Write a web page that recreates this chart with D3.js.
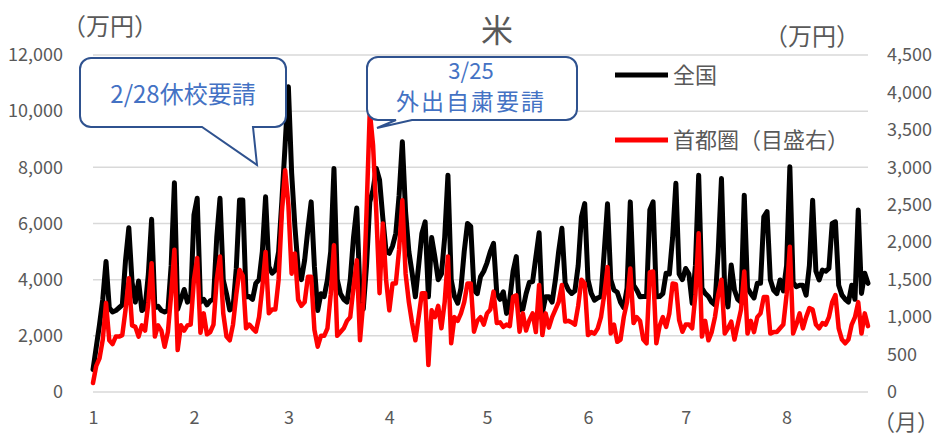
<!DOCTYPE html>
<html>
<head>
<meta charset="utf-8">
<script src="https://cdn.jsdelivr.net/npm/d3@7"></script>
<style>
  html, body { margin: 0; padding: 0; background: #fff; }
  svg { display: block; font-family: "Noto Sans CJK JP", "Noto Sans", sans-serif; }
</style>
</head>
<body>
<svg id="chart" width="941" height="436"></svg>
<script>
// ---- data (daily, 2020-01-01 .. 2020-08-26) ----
const startDateStr = "2020-01-01";
const title = "米";
const seriesNames = ["全国", "首都圏（目盛右）"];
const leftTicks = [0, 2000, 4000, 6000, 8000, 10000, 12000];
const rightTicks = [0, 500, 1000, 1500, 2000, 2500, 3000, 3500, 4000, 4500];
const callouts = ["2/28休校要請", "3/25", "外出自粛要請"];

// 全国 (left axis, 万円)
const zenkoku = [
  800, 1600, 2400, 3300, 4650, 3000, 2850, 2900, 3000, 3100,
  4700, 5850, 3900, 3200, 3950, 2900, 3000, 4200, 6150, 3000,
  3050, 2900, 2850, 2900, 4500, 7450, 2950, 3300, 3650, 3200,
  3300, 6300, 6900, 3200, 3300, 3100, 3250, 3300, 5500, 6900,
  3990, 3500, 2920, 3000, 4400, 6840, 6840, 3390, 3400, 3300,
  3870, 4000, 5000, 6950, 4460, 4230, 4340, 5000, 6800, 8800,
  10870, 7800, 5900, 4400, 4000, 4700, 5800, 6770, 4460, 2900,
  3500, 3400, 4000, 5000, 7960, 4000, 3500, 3300, 3200, 4000,
  5500, 6550, 3500, 2950, 4500, 6760, 7200, 7960, 7550, 6200,
  5000, 4940, 5200, 5650, 7000, 8910, 6400, 5000, 4230, 3390,
  4500, 5650, 6060, 3390, 5500, 4800, 4000, 4200, 5500, 7720,
  4000, 3400, 3160, 3700, 5000, 6000, 5900, 3630, 3500, 4100,
  4300, 4600, 5000, 5290, 3510, 3300, 3570, 2800, 3300, 4300,
  4820, 2920, 2950, 3500, 3900, 3930, 4800, 5670, 2810, 3390,
  3390, 3200, 3990, 5000, 5830, 3880, 3630, 3510, 3600, 4500,
  6240, 6710, 4000, 3510, 3270, 3350, 3400, 5000, 6700, 4000,
  3630, 3550, 3200, 3000, 3700, 6770, 3800, 3630, 3390, 3400,
  3400, 6480, 6770, 3390, 3400, 3500, 4230, 4200, 5500, 7430,
  4200, 4000, 4400, 4200, 3160, 4500, 7720, 3700, 3510, 3400,
  3200, 3100, 5000, 7600, 3600, 3030, 4520, 3630, 3300, 3200,
  7010, 3700, 3510, 3350, 3870, 3870, 6240, 6420, 4000, 3630,
  3500, 3990, 3600, 4500, 8020, 3900, 3750, 3800, 3800, 3450,
  4500, 6830, 4300, 3990, 4340, 4300, 4400, 6000, 6060, 3800,
  3450, 3300, 3200, 3800, 3300, 6480, 3510, 4230, 3870
];

// 首都圏 (right axis, 万円)
const shutoken = [
  120, 350, 450, 700, 1190, 690, 640, 740, 740, 760,
  1100, 1520, 890, 870, 740, 890, 820, 1200, 1720, 740,
  890, 820, 605, 800, 1300, 1900, 560, 890, 820, 890,
  900, 1500, 1790, 790, 1050, 770, 800, 900, 1500, 1810,
  1050, 740, 690, 900, 1300, 1630, 1550, 850, 900, 850,
  805, 1000, 1400, 1870, 1050, 1100, 1100, 1500, 2400, 2960,
  2500, 1580, 1850, 1230, 1150, 1200, 1540, 1540, 830, 605,
  750, 750, 850, 1300, 1960, 750, 800, 850, 950, 1000,
  1400, 1760, 690, 1200, 2400, 3750, 3300, 2400, 1320, 2250,
  1500, 1090, 1450, 1450, 1900, 2560, 1580, 1200, 920, 690,
  1000, 1320, 1320, 360, 1090, 1000, 1150, 850, 1200, 1810,
  650, 1000, 950, 1050, 1200, 1450, 1450, 805, 950, 1000,
  900, 1050, 1100, 1340, 920, 930, 870, 900, 880, 1270,
  1290, 805, 1050, 820, 960, 1050, 800, 1430, 760, 1050,
  860, 1000, 1100, 1200, 1430, 940, 950, 930, 900, 1150,
  1500, 1450, 760, 800, 780, 850, 1000, 1300, 1670, 780,
  900, 670, 700, 1000, 1200, 1650, 920, 1000, 950, 700,
  650, 1600, 1610, 650, 880, 1000, 870, 1050, 1450, 1440,
  960, 805, 900, 900, 850, 1300, 2120, 740, 950, 690,
  800, 1000, 1300, 1500, 780, 850, 940, 700, 900, 1100,
  1610, 780, 950, 800, 1000, 1050, 1270, 1270, 780, 800,
  800, 850, 900, 1300, 1940, 780, 900, 1050, 850, 1000,
  1120, 1100, 900, 850, 920, 900, 1000, 1200, 1295, 850,
  700, 650, 700, 900, 1000, 1200, 780, 1050, 880
];

// ---- drawing ----
const svg = d3.select("#chart");
const W = 941, H = 436;
const plot = { left: 93, right: 868, top: 55, bottom: 392 };
const textGray = "#595959";

const start = d3.timeParse("%Y-%m-%d")(startDateStr);
const dates = d3.range(zenkoku.length).map(i => d3.timeDay.offset(start, i));

const x = d3.scaleTime().domain([start, dates[dates.length - 1]]).range([plot.left, plot.right]);
const yL = d3.scaleLinear().domain([0, 12000]).range([plot.bottom, plot.top]);
const yR = d3.scaleLinear().domain([0, 4500]).range([plot.bottom, plot.top]);

svg.append("rect").attr("width", W).attr("height", H).attr("fill", "#fff");

// gridlines
svg.append("g").selectAll("line").data(leftTicks).join("line")
  .attr("x1", plot.left).attr("x2", plot.right)
  .attr("y1", d => yL(d)).attr("y2", d => yL(d))
  .attr("stroke", "#d9d9d9").attr("stroke-width", 1.5);

// left axis
const gL = svg.append("g").attr("transform", `translate(${plot.left},0)`)
  .call(d3.axisLeft(yL).tickValues(leftTicks).tickFormat(d3.format(",")).tickSize(0).tickPadding(30));
gL.select(".domain").remove();
gL.selectAll("text").attr("fill", textGray).style("font-size", "18px").style("font-family", "'Noto Sans CJK JP'");

// right axis
const gR = svg.append("g").attr("transform", `translate(${plot.right},0)`)
  .call(d3.axisRight(yR).tickValues(rightTicks).tickFormat(d3.format(",")).tickSize(0).tickPadding(19));
gR.select(".domain").remove();
gR.selectAll("text").attr("fill", textGray).style("font-size", "18px").style("font-family", "'Noto Sans CJK JP'");

// bottom axis (month numbers)
const monthStarts = d3.timeMonth.range(start, dates[dates.length - 1]);
const gB = svg.append("g").attr("transform", `translate(0,${plot.bottom})`)
  .call(d3.axisBottom(x).tickValues(monthStarts).tickFormat(d3.timeFormat("%-m")).tickSize(0).tickPadding(19));
gB.select(".domain").remove();
gB.selectAll("text").attr("fill", textGray).style("font-size", "18px").style("font-family", "'Noto Sans CJK JP'");

// lines
const lineL = d3.line().x((d, i) => x(dates[i])).y(d => yL(d)).curve(d3.curveLinear);
const lineR = d3.line().x((d, i) => x(dates[i])).y(d => yR(d)).curve(d3.curveLinear);
svg.append("path").datum(zenkoku).attr("d", lineL)
  .attr("fill", "none").attr("stroke", "#000").attr("stroke-width", 5)
  .attr("stroke-linejoin", "round").attr("stroke-linecap", "round");
svg.append("path").datum(shutoken).attr("d", lineR)
  .attr("fill", "none").attr("stroke", "#ff0000").attr("stroke-width", 4.5)
  .attr("stroke-linejoin", "round").attr("stroke-linecap", "round");

// unit labels & title
svg.append("text").attr("x", 62).attr("y", 35).text("（万円）")
  .attr("fill", textGray).style("font-size", "24px");
svg.append("text").attr("x", 764).attr("y", 45).text("（万円）")
  .attr("fill", textGray).style("font-size", "24px");
svg.append("text").attr("x", 873).attr("y", 430).text("（月）")
  .attr("fill", textGray).style("font-size", "22px");
svg.append("text").attr("x", 497).attr("y", 42).attr("text-anchor", "middle").text(title)
  .attr("fill", textGray).style("font-size", "32px");

// legend
const legend = svg.append("g");
[["#000", 75, seriesNames[0]], ["#ff0000", 140, seriesNames[1]]].forEach(([c, yy, name]) => {
  legend.append("line").attr("x1", 615).attr("x2", 668).attr("y1", yy).attr("y2", yy)
    .attr("stroke", c).attr("stroke-width", 5);
  legend.append("text").attr("x", 673).attr("y", yy).attr("dy", "0.35em").text(name)
    .attr("fill", textGray).style("font-size", "22px");
});

// callouts
function callout(x0, y0, x1, y1, r, tailA, tailB, tip) {
  return `M${x0 + r},${y0} H${x1 - r} A${r},${r} 0 0 1 ${x1},${y0 + r} V${y1 - r} A${r},${r} 0 0 1 ${x1 - r},${y1}` +
    ` H${tailB} L${tip[0]},${tip[1]} L${tailA},${y1}` +
    ` H${x0 + r} A${r},${r} 0 0 1 ${x0},${y1 - r} V${y0 + r} A${r},${r} 0 0 1 ${x0 + r},${y0} Z`;
}
svg.append("path").attr("d", callout(80, 58, 286, 127, 11, 202, 253, [257, 165]))
  .attr("fill", "#fff").attr("stroke", "#2F528F").attr("stroke-width", 2);
svg.append("path").attr("d", callout(367, 57, 577, 120, 11, 396, 412, [377, 128]))
  .attr("fill", "#fff").attr("stroke", "#2F528F").attr("stroke-width", 2);

const calloutColor = "#4472C4";
svg.append("text").attr("x", 183).attr("y", 103).attr("text-anchor", "middle").text(callouts[0])
  .attr("fill", calloutColor).style("font-size", "24px");
svg.append("text").attr("x", 471).attr("y", 79).attr("text-anchor", "middle").text(callouts[1])
  .attr("fill", calloutColor).style("font-size", "22px");
svg.append("text").attr("x", 471).attr("y", 110).attr("text-anchor", "middle").text(callouts[2])
  .attr("fill", calloutColor).style("font-size", "23px").style("letter-spacing", "2px");
</script>
</body>
</html>
